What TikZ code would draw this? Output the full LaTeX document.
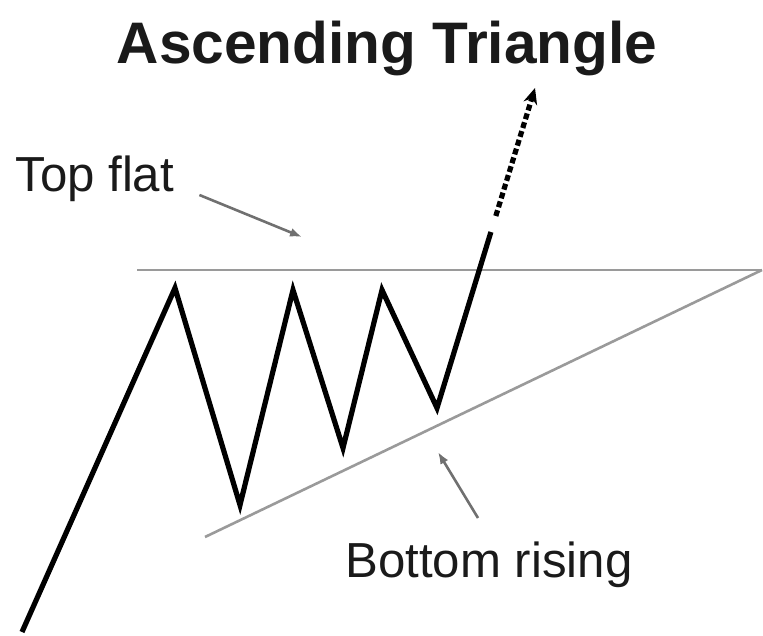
\documentclass[tikz,border=0pt]{standalone}
\usepackage{fontspec}
\setmainfont{Liberation Sans}
\usetikzlibrary{positioning, arrows.meta, calc}
\usepackage{xcolor}
\definecolor{atink}{HTML}{1A1A1A}
\definecolor{atline}{HTML}{9A9A9A}
\definecolor{atnote}{HTML}{707070}

\begin{document}
\begin{tikzpicture}[x=0.5pt, y=-0.5pt,
    price/.style={draw=black, line width=2.6pt, line join=miter, line cap=butt},
    bound/.style={draw=atline, line width=1.3pt},
    pointer/.style={draw=atnote, line width=1.3pt, -{Latex[length=6pt, width=4.5pt]}}]
  \useasboundingbox (0,0) rectangle (763,635);

  % title and labels
  \node[text=atink, font=\bfseries\fontsize{29.3}{34}\selectfont, anchor=base, inner sep=0pt] (title) at (387,64) {Ascending Triangle};
  \node[text=atink, font=\fontsize{24.6}{28}\selectfont, anchor=base west, inner sep=0pt] (topflat) at (15,192) {Top flat};
  \node[text=atink, font=\fontsize{24.6}{28}\selectfont, anchor=base west, inner sep=0pt] (botrise) at (345,577) {Bottom rising};

  % trend lines
  \coordinate (flat0) at (137,270);
  \coordinate (apex) at (762,270);
  \coordinate (rise0) at (205,537);
  \draw[bound] (flat0) -- (apex);
  \draw[bound] (rise0) -- (apex);

  % price swings
  \coordinate (s0) at (22,632);
  \coordinate (s1) at (175,288);
  \coordinate (s2) at (240,505);
  \coordinate (s3) at (293,290);
  \coordinate (s4) at (343,448);
  \coordinate (s5) at (382,290);
  \coordinate (s6) at (437,408);
  \coordinate (brk) at (535,88);
  \draw[price] (s0) -- (s1) -- (s2) -- (s3) -- (s4) -- (s5) -- (s6) -- ($(s6)!0.55!(brk)$);
  \draw[price, dash pattern=on 3pt off 1.6pt, -{Stealth[length=8pt, width=7pt]}] ($(s6)!0.6!(brk)$) -- (brk);

  % label pointers
  \coordinate (flathead) at (302,237);
  \coordinate (risehead) at (438,452);
  \draw[pointer] ([shift={(25,3)}]topflat.base east) -- (flathead);
  \draw[pointer] ([shift={(133,-59)}]botrise.base west) -- (risehead);
\end{tikzpicture}
\end{document}
